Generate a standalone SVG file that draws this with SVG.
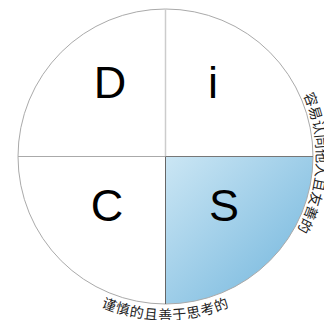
<svg xmlns="http://www.w3.org/2000/svg" width="324" height="320" viewBox="0 0 324 320">
<style>
.letter{font-family:"Liberation Sans",Arial,sans-serif;font-size:45px;fill:#000;text-anchor:middle}
.arc{font-family:"Liberation Sans","Noto Sans CJK SC",sans-serif;font-size:14px;fill:#222}
</style>
<defs>
<linearGradient id="sg" x1="0" y1="0" x2="1" y2="1">
<stop offset="0" stop-color="#cbe6f4"/>
<stop offset="1" stop-color="#6fb4dc"/>
</linearGradient>
<path id="rp" d="M246.6,29.2 A151,151 0 0 1 235.2,290.4"/>
<path id="bp" d="M23.9,238.25 A163.5,163.5 0 0 0 307.1,238.25"/>
</defs>
<rect width="324" height="320" fill="#fff"/>
<g id="S">
<path d="M165.5,156.5 H313 A147.5,147.5 0 0 1 165.5,304 Z" fill="url(#sg)"/>
<text class="letter" x="224" y="221">S</text>
</g>
<g id="D"><text class="letter" x="110" y="98">D</text></g>
<g id="i"><text class="letter" x="213" y="98">i</text></g>
<g id="C"><text class="letter" x="107" y="221">C</text></g>
<g id="connectors" fill="none">
<circle cx="165.5" cy="156.5" r="147.5" stroke="#aaa" stroke-width="1"/>
<line x1="165.5" y1="9" x2="165.5" y2="156.5" stroke="#ccc" stroke-width="1.5"/>
<line x1="165.5" y1="156.5" x2="165.5" y2="304" stroke="#666"/>
<line x1="18" y1="156.5" x2="165.5" y2="156.5" stroke="#aaa"/>
<line x1="165.5" y1="156.5" x2="313" y2="156.5" stroke="#777"/>
</g>
<g id="labels">
<text class="arc"><textPath href="#rp" startOffset="50%" text-anchor="middle">容易认同他人且友善的</textPath></text>
<text class="arc" letter-spacing="0.7"><textPath href="#bp" startOffset="50%" text-anchor="middle">谨慎的且善于思考的</textPath></text>
</g>
</svg>
